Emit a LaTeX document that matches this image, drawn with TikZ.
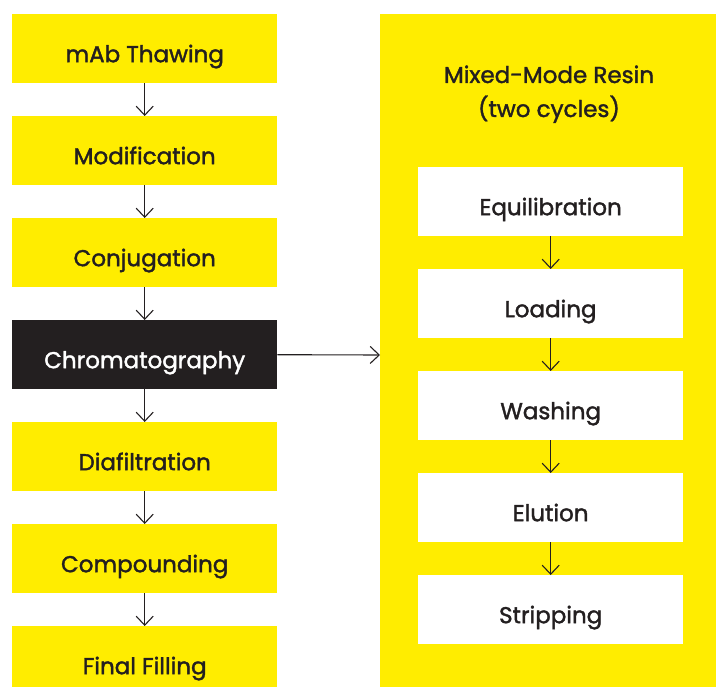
\documentclass[tikz,border=0pt]{standalone}
\usepackage{fontspec}
\setmainfont{Poppins}[BoldFont=Poppins,BoldFeatures={FakeBold=1.6}]
\usetikzlibrary{positioning,arrows.meta}
\definecolor{procyellow}{HTML}{FFED00}
\definecolor{procdark}{HTML}{231F20}
\begin{document}
\begin{tikzpicture}[x=1pt,y=-1pt,font=\fontsize{23}{27}\selectfont\bfseries,
      step box/.style={fill=procyellow,text=procdark,minimum width=265pt,minimum height=69pt,inner sep=0pt,
        text height=27pt,text depth=0pt,anchor=north west},
      active box/.style={step box,fill=procdark,text=white},
      resin box/.style={step box,fill=white},
      arr/.style={-{Straight Barb[length=9pt,width=17pt]},line width=1.1pt,draw=procdark}]
    \useasboundingbox (0,0) rectangle (716,687);
    % left column
    \foreach \i/\lab in {0/mAb Thawing,1/Modification,2/Conjugation,4/Diafiltration,5/Compounding,6/Final Filling} {
      \node[step box] (s\i) at (12, 14+\i*102) {\lab};
    }
    \node[active box] (s3) at (12, 320) {Chromatography};
    \foreach \i [evaluate=\i as \j using int(\i+1)] in {0,...,5} {
      \draw[arr] (s\i.south) -- (s\j.north);
    }
    % right panel
    \fill[procyellow] (380,14) rectangle (716,687);
    \coordinate (panel) at (380,355);
    \node[text=procdark,align=center,anchor=base,font=\fontsize{23}{34}\selectfont\bfseries] (title) at (549,117) {Mixed-Mode Resin\\(two cycles)};
    \foreach \i/\lab in {0/Equilibration,1/Loading,2/Washing,3/Elution,4/Stripping} {
      \node[resin box] (r\i) at (418, 167+\i*102) {\lab};
    }
    \foreach \i [evaluate=\i as \j using int(\i+1)] in {0,...,3} {
      \draw[arr] (r\i.south) -- (r\j.north);
    }
    \draw[arr] (s3.east) -- (panel);
  \end{tikzpicture}
\end{document}
